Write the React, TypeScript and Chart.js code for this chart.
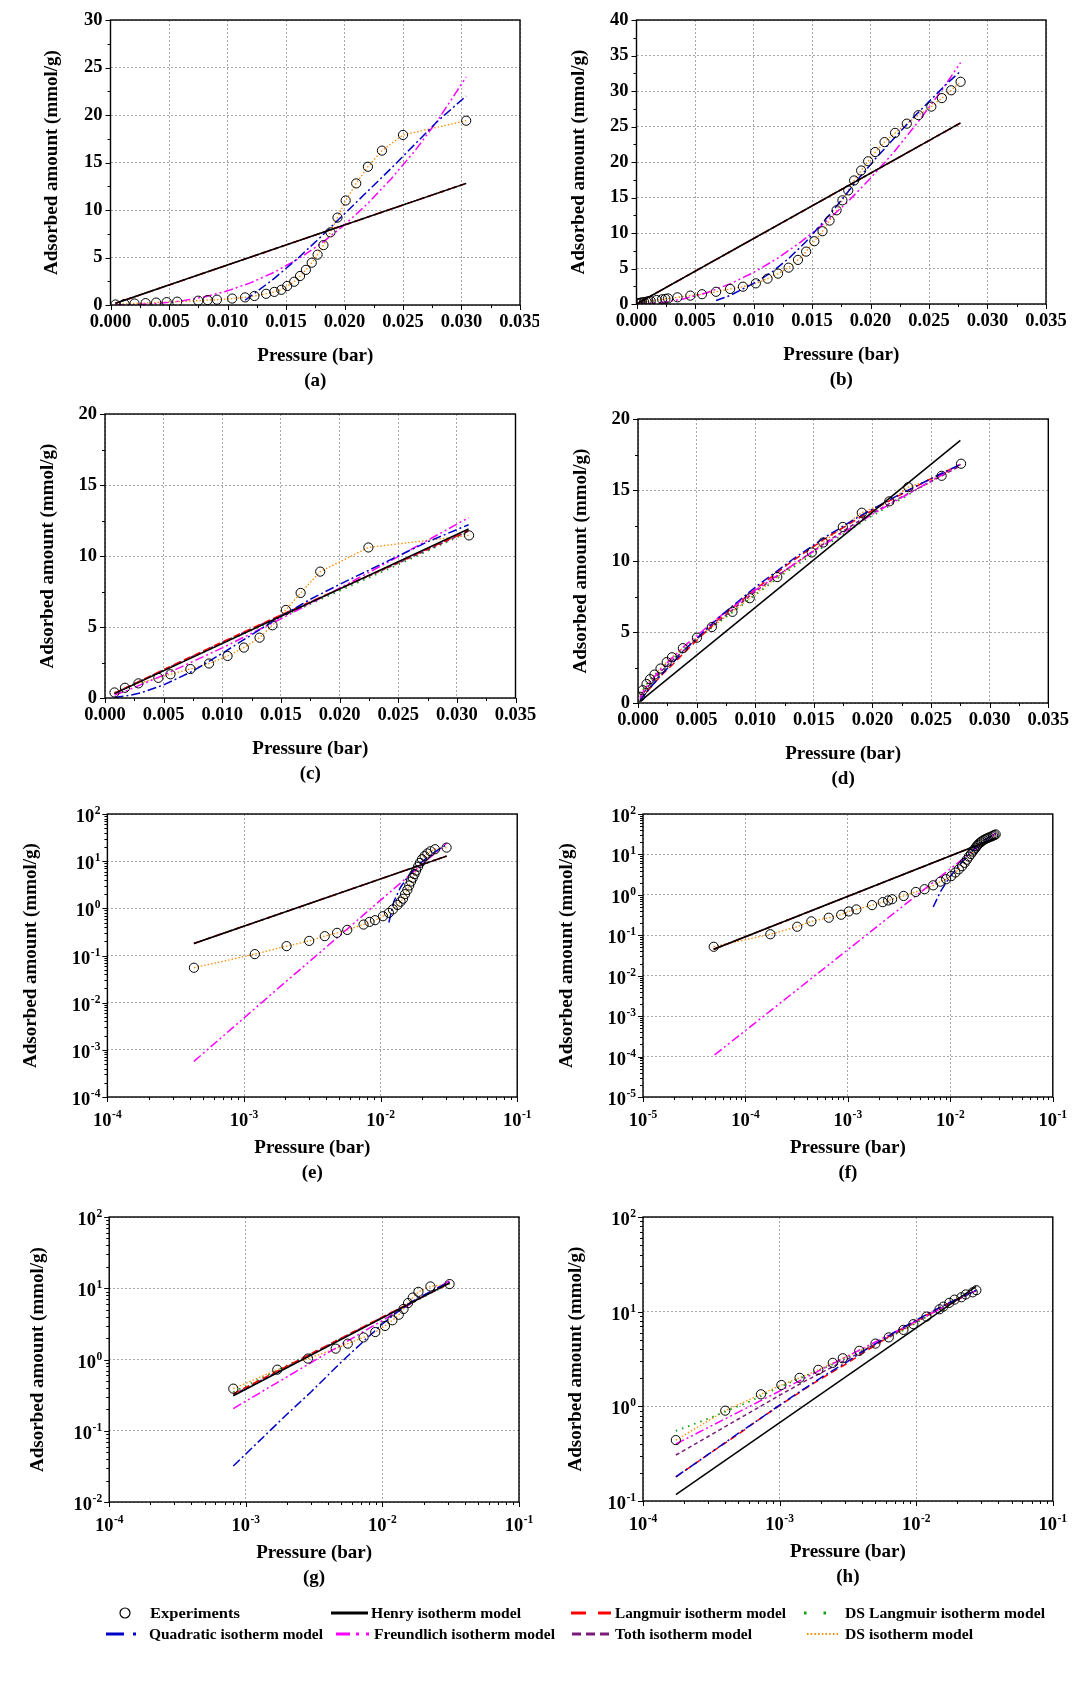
import React, { useEffect, useRef } from 'react';
import { Chart, registerables } from 'chart.js';

Chart.register(...registerables);

const FONT = '"Liberation Serif", "Times New Roman", Times, serif';

// ---------------- Sample A : panels (a) and (e) ----------------
const expP_A = [0.00043, 0.0012, 0.00205, 0.003, 0.0039, 0.0048, 0.0057, 0.0075, 0.0083, 0.0091, 0.0104, 0.0115, 0.0123, 0.0133, 0.014, 0.0146, 0.0151, 0.0157, 0.0162, 0.0167, 0.0172, 0.0177, 0.0182, 0.0188, 0.0194, 0.0201, 0.021, 0.022, 0.0232, 0.025, 0.0304];
const expQ_A = [0.055, 0.107, 0.158, 0.204, 0.257, 0.302, 0.349, 0.453, 0.516, 0.56, 0.68, 0.8, 0.95, 1.18, 1.38, 1.6, 2.0, 2.45, 3.05, 3.7, 4.45, 5.3, 6.3, 7.65, 9.2, 11.0, 12.8, 14.55, 16.25, 17.9, 19.4];
const henryP_A = [0.00043, 0.0304];
const henryQ_A = [0.18, 12.8];
const langP_A = [0.00043, 0.0304];
const langQ_A = [0.18, 12.8];
const tothP_A = [0.00043, 0.0304];
const tothQ_A = [0.18, 12.8];
const dslP_A = [0.00043, 0.0304];
const dslQ_A = [0.18, 12.8];
const quadP_A = [0.0115, 0.0125, 0.014, 0.016, 0.018, 0.02, 0.022, 0.024, 0.026, 0.028, 0.0304];
const quadQ_A = [0.5, 1.4, 2.8, 4.9, 7.2, 9.6, 12.0, 14.4, 16.9, 19.4, 22.0];
const freuP_A = [0.00043, 0.002, 0.004, 0.006, 0.008, 0.01, 0.012, 0.014, 0.016, 0.018, 0.02, 0.022, 0.024, 0.026, 0.028, 0.0304];
const freuQ_A = [0.00057, 0.027, 0.151, 0.415, 0.853, 1.49, 2.35, 3.45, 4.82, 6.47, 8.43, 10.7, 13.3, 16.2, 19.5, 24.0];

// ---------------- Sample B : panels (b) and (f) ----------------
const expP_B = [0.000049, 0.000175, 0.00032, 0.00044, 0.00065, 0.00086, 0.00102, 0.00121, 0.00172, 0.00219, 0.00247, 0.0027, 0.0035, 0.0046, 0.0056, 0.0068, 0.008, 0.0091, 0.0102, 0.0112, 0.0121, 0.013, 0.0138, 0.0145, 0.0152, 0.0159, 0.0165, 0.0171, 0.0176, 0.0181, 0.0186, 0.0192, 0.0198, 0.0204, 0.0212, 0.0221, 0.0231, 0.0241, 0.0252, 0.0261, 0.0269, 0.0277];
const expQ_B = [0.052, 0.106, 0.163, 0.221, 0.272, 0.322, 0.389, 0.436, 0.557, 0.66, 0.726, 0.78, 0.94, 1.18, 1.38, 1.72, 2.12, 2.44, 2.91, 3.57, 4.28, 5.12, 6.21, 7.38, 8.84, 10.25, 11.75, 13.2, 14.6, 16.0, 17.4, 18.8, 20.1, 21.4, 22.8, 24.1, 25.4, 26.6, 27.8, 29.0, 30.1, 31.3];
const henryP_B = [0.000049, 0.0277];
const henryQ_B = [0.045, 25.5];
const langP_B = [0.000049, 0.0277];
const langQ_B = [0.045, 25.5];
const tothP_B = [0.000049, 0.0277];
const tothQ_B = [0.045, 25.5];
const dslP_B = [0.000049, 0.0277];
const dslQ_B = [0.045, 25.5];
const quadP_B = [0.0068, 0.008, 0.01, 0.0115, 0.013, 0.0145, 0.016, 0.0175, 0.019, 0.0205, 0.022, 0.0235, 0.025, 0.0265, 0.0277];
const quadQ_B = [0.5, 1.2, 2.9, 4.4, 6.4, 8.8, 11.6, 14.6, 17.7, 20.6, 23.3, 26.0, 28.5, 31.0, 32.8];
const freuP_B = [0.00005, 0.002, 0.004, 0.006, 0.008, 0.01, 0.012, 0.014, 0.016, 0.018, 0.02, 0.022, 0.024, 0.026, 0.0277];
const freuQ_B = [0.00011, 0.177, 0.71, 1.59, 2.83, 4.43, 6.38, 8.68, 11.3, 14.3, 17.7, 21.4, 25.5, 29.9, 34.0];

// ---------------- Sample C : panels (c) and (g) ----------------
const expP_C = [0.00081, 0.0017, 0.00285, 0.00455, 0.00558, 0.00728, 0.00887, 0.01045, 0.01184, 0.01318, 0.01428, 0.01542, 0.01668, 0.01835, 0.02246, 0.03104];
const expQ_C = [0.39, 0.72, 1.03, 1.42, 1.67, 2.04, 2.43, 2.96, 3.55, 4.25, 5.12, 6.2, 7.4, 8.9, 10.6, 11.45];
const henryP_C = [0.00081, 0.031];
const henryQ_C = [0.31, 11.9];
const langP_C = [0.00081, 0.005, 0.01, 0.015, 0.02, 0.025, 0.031];
const langQ_C = [0.33, 2.0, 3.95, 5.85, 7.7, 9.55, 11.8];
const tothP_C = [0.00081, 0.005, 0.01, 0.015, 0.02, 0.025, 0.031];
const tothQ_C = [0.32, 1.98, 3.92, 5.82, 7.68, 9.5, 11.75];
const dslP_C = [0.00081, 0.005, 0.01, 0.015, 0.02, 0.025, 0.031];
const dslQ_C = [0.35, 1.95, 3.85, 5.7, 7.55, 9.4, 11.7];
const quadP_C = [0.00081, 0.002, 0.003, 0.005, 0.0075, 0.01, 0.0125, 0.015, 0.0175, 0.02, 0.0225, 0.025, 0.0275, 0.031];
const quadQ_C = [0.032, 0.17, 0.35, 0.92, 1.9, 3.15, 4.45, 5.75, 6.95, 8.0, 9.0, 10.0, 11.0, 12.2];
const freuP_C = [0.00081, 0.002, 0.005, 0.01, 0.015, 0.02, 0.025, 0.031];
const freuQ_C = [0.205, 0.57, 1.61, 3.53, 5.58, 7.73, 9.96, 12.7];

// ---------------- Sample D : panels (d) and (h) ----------------
const expP_D = [0.000174, 0.0004, 0.00073, 0.00103, 0.0014, 0.00192, 0.00245, 0.0029, 0.00383, 0.00503, 0.0063, 0.00806, 0.00953, 0.01188, 0.01482, 0.0158, 0.01747, 0.01909, 0.02144, 0.02306, 0.0259, 0.02756];
const expQ_D = [0.44, 0.9, 1.34, 1.68, 2.0, 2.43, 2.88, 3.22, 3.86, 4.6, 5.35, 6.42, 7.38, 8.87, 10.6, 11.3, 12.4, 13.4, 14.2, 15.2, 16.0, 16.85];
const henryP_D = [0.000174, 0.0275];
const henryQ_D = [0.117, 18.5];
const langP_D = [0.000174, 0.0003, 0.0005, 0.0007, 0.001, 0.0015, 0.002, 0.003, 0.004, 0.005, 0.007, 0.01, 0.013, 0.016, 0.019, 0.022, 0.025, 0.0275];
const langQ_D = [0.18, 0.31, 0.51, 0.72, 1.02, 1.5, 1.95, 2.75, 3.6, 4.4, 6.0, 8.0, 9.9, 11.6, 13.1, 14.5, 15.8, 16.8];
const quadP_D = [0.000174, 0.0003, 0.0005, 0.0007, 0.001, 0.0015, 0.002, 0.003, 0.004, 0.005, 0.007, 0.01, 0.013, 0.016, 0.019, 0.022, 0.025, 0.0275];
const quadQ_D = [0.18, 0.31, 0.52, 0.72, 1.03, 1.52, 2.0, 2.85, 3.75, 4.55, 6.1, 8.15, 10.0, 11.7, 13.2, 14.55, 15.8, 16.8];
const tothP_D = [0.000174, 0.0003, 0.0005, 0.0007, 0.001, 0.0015, 0.002, 0.003, 0.004, 0.005, 0.007, 0.01, 0.013, 0.016, 0.019, 0.022, 0.025, 0.0275];
const tothQ_D = [0.306, 0.48, 0.735, 0.97, 1.31, 1.81, 2.25, 3.05, 3.78, 4.5, 5.85, 7.85, 9.6, 11.3, 12.9, 14.3, 15.6, 16.7];
const freuP_D = [0.000174, 0.0005, 0.001, 0.002, 0.004, 0.007, 0.01, 0.015, 0.02, 0.0275];
const freuQ_D = [0.4, 0.87, 1.45, 2.43, 4.05, 6.11, 7.95, 10.7, 13.3, 16.8];
const dslP_D = [0.000174, 0.0003, 0.0004, 0.0006, 0.001, 0.002, 0.003, 0.005, 0.008, 0.012, 0.016, 0.02, 0.0275];
const dslQ_D = [0.55, 0.74, 0.88, 1.12, 1.6, 2.45, 3.15, 4.5, 6.35, 8.85, 11.1, 13.2, 16.8];

// ---------------- tables built from the arrays ----------------
const SET_A = { exp: [expP_A, expQ_A], henry: [henryP_A, henryQ_A], lang: [langP_A, langQ_A], dsl: [dslP_A, dslQ_A], quad: [quadP_A, quadQ_A], freu: [freuP_A, freuQ_A], toth: [tothP_A, tothQ_A], ds: [expP_A, expQ_A] };
const SET_B = { exp: [expP_B, expQ_B], henry: [henryP_B, henryQ_B], lang: [langP_B, langQ_B], dsl: [dslP_B, dslQ_B], quad: [quadP_B, quadQ_B], freu: [freuP_B, freuQ_B], toth: [tothP_B, tothQ_B], ds: [expP_B, expQ_B] };
const SET_C = { exp: [expP_C, expQ_C], henry: [henryP_C, henryQ_C], lang: [langP_C, langQ_C], dsl: [dslP_C, dslQ_C], quad: [quadP_C, quadQ_C], freu: [freuP_C, freuQ_C], toth: [tothP_C, tothQ_C], ds: [expP_C, expQ_C] };
const SET_D = { exp: [expP_D, expQ_D], henry: [henryP_D, henryQ_D], lang: [langP_D, langQ_D], dsl: [dslP_D, dslQ_D], quad: [quadP_D, quadQ_D], freu: [freuP_D, freuQ_D], toth: [tothP_D, tothQ_D], ds: [expP_D, expQ_D] };

const LABELS: Record<string, string> = {
  exp: 'Experiments',
  henry: 'Henry isotherm model',
  lang: 'Langmuir isotherm model',
  dsl: 'DS Langmuir isotherm model',
  quad: 'Quadratic isotherm model',
  freu: 'Freundlich isotherm model',
  toth: 'Toth isotherm model',
  ds: 'DS isotherm model',
};

const STYLES: Record<string, any> = {
  henry: { color: '#000000', width: 1.5, dash: [] },
  lang: { color: '#ff0000', width: 1.5, dash: [7, 4] },
  dsl: { color: '#10a010', width: 1.8, dash: [1.5, 5] },
  quad: { color: '#0000c8', width: 1.5, dash: [9, 3, 2, 3] },
  freu: { color: '#ff00ff', width: 1.5, dash: [9, 3, 2, 3, 2, 3] },
  toth: { color: '#7a1a7a', width: 1.5, dash: [4, 3] },
  ds: { color: '#ff8a00', width: 1.3, dash: [1.5, 2] },
};

// first = drawn on top
const ORDER = ['exp', 'henry', 'quad', 'freu', 'lang', 'toth', 'dsl', 'ds'];

// plot: [left, top, right, bottom] of the plotting frame in page pixels
const PANELS: any[] = [
  { letter: 'a', col: 0, plot: [110.5, 20, 520, 305], log: false, x: [0, 0.035, 0.0025, 0.005], y: [0, 30, 2.5, 5], yTitleX: 52, set: SET_A },
  { letter: 'b', col: 1, plot: [636.5, 20, 1046, 304], log: false, x: [0, 0.035, 0.0025, 0.005], y: [0, 40, 2.5, 5], yTitleX: 579, set: SET_B },
  { letter: 'c', col: 0, plot: [105, 414, 515.5, 698], log: false, x: [0, 0.035, 0.0025, 0.005], y: [0, 20, 2.5, 5], yTitleX: 48, set: SET_C },
  { letter: 'd', col: 1, plot: [638, 419, 1048.3, 703], log: false, x: [0, 0.035, 0.0025, 0.005], y: [0, 20, 2.5, 5], yTitleX: 581, set: SET_D },
  { letter: 'e', col: 0, plot: [107.4, 814, 517.2, 1097], log: true, x: [1e-4, 1e-1], y: [1e-4, 1e2], yTitleX: 31, set: SET_A },
  { letter: 'f', col: 1, plot: [643, 814, 1052.8, 1097], log: true, x: [1e-5, 1e-1], y: [1e-5, 1e2], yTitleX: 567, set: SET_B },
  { letter: 'g', col: 0, plot: [109.2, 1217, 519, 1502], log: true, x: [1e-4, 1e-1], y: [1e-2, 1e2], yTitleX: 38, set: SET_C },
  { letter: 'h', col: 1, plot: [643, 1217, 1052.8, 1501], log: true, x: [1e-4, 1e-1], y: [1e-1, 1e2], yTitleX: 576, set: SET_D },
];

function boxOf(cfg: any) {
  const [, T, , B] = cfg.plot;
  const x0 = cfg.col === 0 ? 0 : 539;
  const y0 = Math.max(0, Math.floor(T - 30));
  const h = Math.ceil(B + 95 - y0);
  return [x0, y0, 539, h];
}

function toPts(p: number[], q: number[]) {
  return p.map((x, i) => ({ x, y: q[i] }));
}

function buildDatasets(set: any) {
  return ORDER.map((k) => {
    const [p, q] = set[k];
    if (k === 'exp') {
      return {
        label: LABELS[k], data: toPts(p, q), showLine: false,
        pointRadius: 4.6, pointHoverRadius: 4.6, pointBorderWidth: 1,
        pointStyle: 'circle', borderColor: '#000', backgroundColor: 'rgba(0,0,0,0)',
      };
    }
    const s = STYLES[k];
    return {
      label: LABELS[k], data: toPts(p, q), showLine: true, pointRadius: 0, pointHoverRadius: 0,
      borderColor: s.color, backgroundColor: s.color, borderWidth: s.width, borderDash: s.dash,
      fill: false, tension: 0,
    };
  });
}

function tickKind(v: number, log: boolean, majorStep: number) {
  if (log) {
    if (v <= 0) return 0;
    const l = Math.log10(v);
    if (Math.abs(l - Math.round(l)) < 1e-6) return 2;
    const sig = v / Math.pow(10, Math.floor(l + 1e-9));
    return Math.abs(sig - Math.round(sig)) < 1e-6 ? 1 : 0;
  }
  const r = v / majorStep;
  return Math.abs(r - Math.round(r)) < 1e-6 ? 2 : 1;
}

function scaleCfg(axis: 'x' | 'y', cfg: any, box: number[]) {
  const [min, max, step, major] = axis === 'x' ? cfg.x : cfg.y;
  const [L, , , B] = cfg.plot;
  const [x0, y0, , h] = box;
  const ticks: any = { display: false, autoSkip: false };
  if (!cfg.log) ticks.stepSize = step;
  return {
    type: cfg.log ? 'logarithmic' : 'linear',
    position: axis === 'x' ? 'bottom' : 'left',
    min, max,
    ticks,
    grid: {
      drawTicks: false,
      lineWidth: 1,
      color: (c: any) => (c.tick && tickKind(c.tick.value, cfg.log, major) === 2 ? '#a6a6a6' : 'rgba(0,0,0,0)'),
    },
    border: { display: false, dash: [2, 2] },
    afterFit: (s: any) => {
      if (axis === 'x') s.height = y0 + h - B;
      else s.width = L - x0;
    },
  };
}

function drawPow(ctx: CanvasRenderingContext2D, e: number, x: number, y: number, align: 'center' | 'right') {
  const base = '10';
  const ex = String(e);
  ctx.font = `bold 18.5px ${FONT}`;
  const wb = ctx.measureText(base).width;
  ctx.font = `bold 11.5px ${FONT}`;
  const we = ctx.measureText(ex).width;
  const total = wb + we + 0.5;
  const xs = align === 'center' ? x - total / 2 : x - total;
  ctx.textAlign = 'left';
  ctx.textBaseline = 'alphabetic';
  ctx.font = `bold 18.5px ${FONT}`;
  ctx.fillText(base, xs, y);
  ctx.font = `bold 11.5px ${FONT}`;
  ctx.fillText(ex, xs + wb + 0.5, y - 8);
}

function decoPlugin(cfg: any, box: number[]) {
  return {
    id: 'deco_' + cfg.letter,
    afterDraw(chart: any) {
      const ctx: CanvasRenderingContext2D = chart.ctx;
      const a = chart.chartArea;
      const xs = chart.scales.x;
      const ys = chart.scales.y;
      const xMaj = cfg.x[3];
      const yMaj = cfg.y[3];
      ctx.save();
      ctx.setLineDash([]);
      ctx.strokeStyle = '#000';
      ctx.lineWidth = 1;
      xs.ticks.forEach((t: any) => {
        const k = tickKind(t.value, cfg.log, xMaj);
        if (!k) return;
        const px = Math.round(xs.getPixelForValue(t.value)) + 0.5;
        ctx.beginPath();
        ctx.moveTo(px, a.bottom);
        ctx.lineTo(px, a.bottom + (k === 2 ? 5 : 3));
        ctx.stroke();
      });
      ys.ticks.forEach((t: any) => {
        const k = tickKind(t.value, cfg.log, yMaj);
        if (!k) return;
        const py = Math.round(ys.getPixelForValue(t.value)) + 0.5;
        ctx.beginPath();
        ctx.moveTo(a.left, py);
        ctx.lineTo(a.left - (k === 2 ? 5 : 3), py);
        ctx.stroke();
      });
      ctx.lineWidth = 1.4;
      ctx.strokeRect(a.left, a.top, a.right - a.left, a.bottom - a.top);

      ctx.fillStyle = '#000';
      xs.ticks.forEach((t: any) => {
        if (tickKind(t.value, cfg.log, xMaj) !== 2) return;
        const px = xs.getPixelForValue(t.value);
        if (cfg.log) {
          drawPow(ctx, Math.round(Math.log10(t.value)), px, a.bottom + 29, 'center');
        } else {
          ctx.font = `bold 18.5px ${FONT}`;
          ctx.textAlign = 'center';
          ctx.textBaseline = 'middle';
          ctx.fillText(t.value.toFixed(3), px, a.bottom + 17);
        }
      });
      ys.ticks.forEach((t: any) => {
        if (tickKind(t.value, cfg.log, yMaj) !== 2) return;
        const py = ys.getPixelForValue(t.value);
        if (cfg.log) {
          drawPow(ctx, Math.round(Math.log10(t.value)), a.left - 7, py + 8, 'right');
        } else {
          ctx.font = `bold 18.5px ${FONT}`;
          ctx.textAlign = 'right';
          ctx.textBaseline = 'middle';
          ctx.fillText(String(Math.round(t.value)), a.left - 8, py);
        }
      });

      const cx = (a.left + a.right) / 2;
      ctx.font = `bold 19px ${FONT}`;
      ctx.textAlign = 'center';
      ctx.textBaseline = 'middle';
      ctx.fillText('Pressure (bar)', cx, a.bottom + 51);
      ctx.fillText(`(${cfg.letter})`, cx, a.bottom + 76);
      ctx.save();
      ctx.translate(cfg.yTitleX - box[0], (a.top + a.bottom) / 2);
      ctx.rotate(-Math.PI / 2);
      ctx.font = `bold 19px ${FONT}`;
      ctx.fillText('Adsorbed amount (mmol/g)', 0, 0);
      ctx.restore();
      ctx.restore();
    },
  };
}

function Panel({ cfg }: { cfg: any }) {
  const ref = useRef<HTMLCanvasElement>(null);
  const box = boxOf(cfg);
  useEffect(() => {
    const [x0, y0, w] = box;
    const [, T, R] = cfg.plot;
    const chart = new Chart(ref.current as HTMLCanvasElement, {
      type: 'scatter',
      data: { datasets: buildDatasets(cfg.set) as any },
      options: {
        responsive: false,
        animation: false,
        events: [],
        layout: { padding: { left: 0, top: T - y0, right: x0 + w - R, bottom: 0 } },
        plugins: { legend: { display: false }, tooltip: { enabled: false }, title: { display: false } },
        scales: { x: scaleCfg('x', cfg, box) as any, y: scaleCfg('y', cfg, box) as any },
      },
      plugins: [decoPlugin(cfg, box)],
    } as any);
    return () => chart.destroy();
  }, [cfg]);
  const [x0, y0, w, h] = box;
  return (
    <canvas
      ref={ref}
      width={w}
      height={h}
      style={{ position: 'absolute', left: x0, top: y0, width: w, height: h }}
    />
  );
}

function Legend() {
  const top = 1598;
  const r1 = 1613 - top;
  const r2 = 1634 - top;
  const t1 = r1 + 5;
  const t2 = r2 + 5;
  return (
    <svg width={1078} height={60} style={{ position: 'absolute', left: 0, top }}>
      <circle cx={125} cy={r1} r={5} fill="none" stroke="#000" strokeWidth={1.2} />
      <line x1={331} y1={r1} x2={368} y2={r1} stroke="#000" strokeWidth={3} />
      <line x1={571} y1={r1} x2={611} y2={r1} stroke="#ff0000" strokeWidth={3} strokeDasharray="15 12" />
      <line x1={804} y1={r1} x2={827} y2={r1} stroke="#10a010" strokeWidth={3} strokeDasharray="2.5 17" />
      <line x1={106} y1={r2} x2={137} y2={r2} stroke="#0000c8" strokeWidth={3} strokeDasharray="18 9 3 9" />
      <line x1={336} y1={r2} x2={371} y2={r2} stroke="#ff00ff" strokeWidth={3} strokeDasharray="14 6 3 7 3 7" />
      <line x1={572} y1={r2} x2={611} y2={r2} stroke="#7a1a7a" strokeWidth={3} strokeDasharray="9 5" />
      <line x1={807} y1={r2} x2={840} y2={r2} stroke="#ff8a00" strokeWidth={2} strokeDasharray="1.5 2.2" />
      <g fontFamily={FONT} fontWeight="bold" fontSize={15} fill="#000">
        <text x={150} y={t1} textLength={90} lengthAdjust="spacingAndGlyphs">{LABELS.exp}</text>
        <text x={371} y={t1} textLength={150} lengthAdjust="spacingAndGlyphs">{LABELS.henry}</text>
        <text x={615} y={t1} textLength={171} lengthAdjust="spacingAndGlyphs">{LABELS.lang}</text>
        <text x={845} y={t1} textLength={200} lengthAdjust="spacingAndGlyphs">{LABELS.dsl}</text>
        <text x={149} y={t2} textLength={174} lengthAdjust="spacingAndGlyphs">{LABELS.quad}</text>
        <text x={374} y={t2} textLength={181} lengthAdjust="spacingAndGlyphs">{LABELS.freu}</text>
        <text x={615} y={t2} textLength={137} lengthAdjust="spacingAndGlyphs">{LABELS.toth}</text>
        <text x={845} y={t2} textLength={128} lengthAdjust="spacingAndGlyphs">{LABELS.ds}</text>
      </g>
    </svg>
  );
}

export default function App() {
  return (
    <div style={{ position: 'absolute', left: 0, top: 0, width: 1078, height: 1688, background: '#fff', overflow: 'hidden' }}>
      {PANELS.map((p) => (
        <Panel key={p.letter} cfg={p} />
      ))}
      <Legend />
    </div>
  );
}
